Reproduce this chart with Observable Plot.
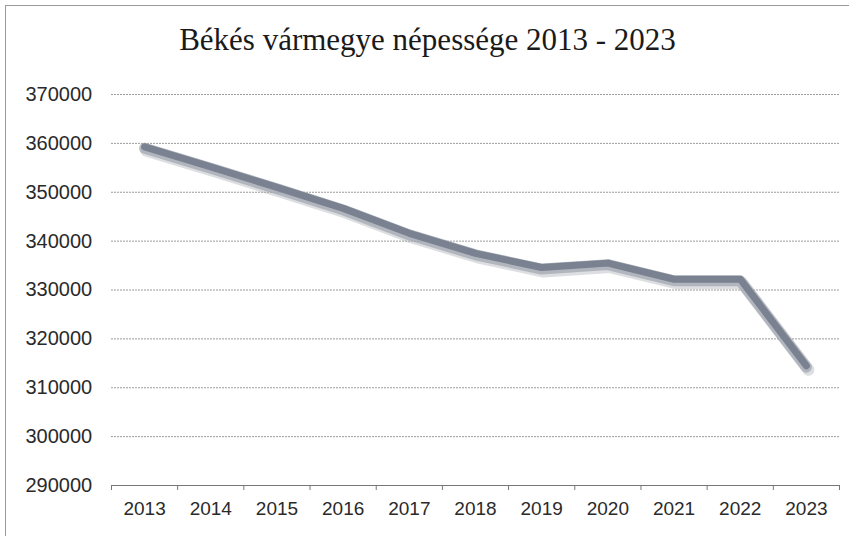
<!DOCTYPE html>
<html>
<head>
<meta charset="utf-8">
<script src="https://cdn.jsdelivr.net/npm/d3@7"></script>
<script src="https://cdn.jsdelivr.net/npm/@observablehq/plot@0.6"></script>
<style>
  html, body { margin: 0; padding: 0; background: #fff; }
  #frame {
    position: absolute; left: 5px; top: 5px; width: 850px; height: 540px;
    border-left: 1px solid #9a9a9a; border-top: 1px solid #9a9a9a;
    background: #fff;
  }
  #title {
    height: 70px; line-height: 68px; text-align: center;
    font-family: "Liberation Serif", "DejaVu Serif", serif;
    font-size: 31px; color: #1a1a1a;
    width: 843px;
  }
</style>
</head>
<body>
<div id="frame">
  <div id="title">Békés vármegye népessége 2013 - 2023</div>
  <div id="chart"></div>
</div>
<script>
const years = [2013, 2014, 2015, 2016, 2017, 2018, 2019, 2020, 2021, 2022, 2023];
const population = [359300, 355200, 351000, 346700, 341600, 337500, 334600, 335500, 332200, 332200, 314500];
const yTicks = [290000, 300000, 310000, 320000, 330000, 340000, 350000, 360000, 370000];

const data = years.map((year, i) => ({year, value: population[i]}));
const boundaries = years.map(y => y - 0.5).concat([years[years.length - 1] + 0.5]);

const chart = Plot.plot({
  width: 843,
  height: 454,
  marginTop: 18,
  marginBottom: 45,
  marginLeft: 105,
  marginRight: 10,
  style: {fontFamily: "'Liberation Sans', Arial, sans-serif", fontSize: "19px", color: "#333", background: "transparent"},
  x: {domain: [years[0] - 0.5, years[years.length - 1] + 0.5]},
  y: {domain: [290000, 370000]},
  marks: [
    Plot.gridY(yTicks, {stroke: "#7a7a7a", strokeOpacity: 0.75, strokeWidth: 1, strokeDasharray: "2,1"}),
    Plot.ruleY([290000], {stroke: "#777", strokeWidth: 1}),
    Plot.axisX(boundaries, {tickSize: 5, tickFormat: () => "", stroke: "#777", label: null}),
    Plot.axisX(years, {tickSize: 0, tickPadding: 16, tickFormat: d => String(d), label: null, fontSize: 19, fill: "#2a2a2a"}),
    Plot.axisY(yTicks, {tickSize: 0, tickPadding: 0, textAnchor: "start", dx: -86, tickFormat: d => String(d), label: null, fontSize: 20, fill: "#2a2a2a"}),
    // soft shadow
    Plot.line(data, {x: "year", y: "value", stroke: "#a9adb4", strokeWidth: 12, strokeOpacity: 0.4, dx: 2, dy: 4, strokeLinejoin: "round", strokeLinecap: "round"}),
    Plot.line(data, {x: "year", y: "value", stroke: "#a2a7b0", strokeWidth: 11, strokeOpacity: 0.75, dy: 1.5, strokeLinejoin: "round"}),
    // main line
    Plot.line(data, {x: "year", y: "value", stroke: "#7a8190", strokeWidth: 7, strokeLinejoin: "round"})
  ]
});
document.getElementById("chart").appendChild(chart);
</script>
</body>
</html>
